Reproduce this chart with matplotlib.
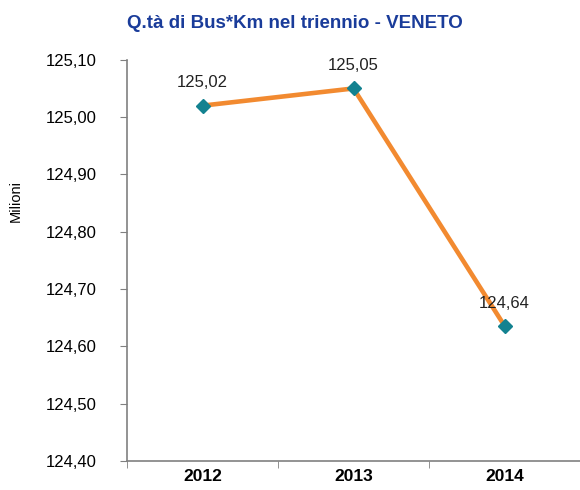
import matplotlib
matplotlib.use("Agg")
import matplotlib.pyplot as plt
from matplotlib.ticker import FuncFormatter

# dati
anni = ["2012", "2013", "2014"]
bus_km = [125.02, 125.05, 124.636]
etichette = ["125,02", "125,05", "124,64"]
y_ticks = [124.40, 124.50, 124.60, 124.70, 124.80, 124.90, 125.00, 125.10]

plt.rcParams["font.family"] = ["Liberation Sans", "DejaVu Sans"]

fig = plt.figure(figsize=(5.8, 4.9), dpi=100)
ax = fig.add_axes([0.219, 0.059, 0.781, 0.819])

x = list(range(len(anni)))
ax.plot(x, bus_km, color="#F28A30", lw=3.3, marker="D", ms=7,
        mfc="#138290", mec="#138290", zorder=3)
for xi, yi, lab in zip(x, bus_km, etichette):
    ax.annotate(lab, (xi, yi), xytext=(0, 11), textcoords="offset points",
                ha="center", va="bottom", fontsize=12, color="#222222")

ax.set_xlim(-0.5, 2.5)
ax.set_ylim(124.40, 125.10)
ax.set_yticks(y_ticks)
ax.yaxis.set_major_formatter(FuncFormatter(lambda v, p: f"{v:.2f}".replace(".", ",")))
ax.set_xticks(x)
ax.set_xticklabels(anni, fontweight="bold", fontsize=12.5)
ax.set_xticks([-0.5, 0.5, 1.5, 2.5], minor=True)
ax.tick_params(axis="x", which="major", length=0, pad=6)
ax.tick_params(axis="x", which="minor", length=5, color="#808080")
ax.tick_params(axis="y", length=5, color="#808080", pad=17, labelsize=12)

for s in ["top", "right"]:
    ax.spines[s].set_visible(False)
for s in ["left", "bottom"]:
    ax.spines[s].set_color("#808080")
    ax.spines[s].set_linewidth(1.2)

fig.text(0.027, 0.59, "Milioni", rotation=90, ha="center", va="center", fontsize=10.5)
fig.text(0.508, 0.953, "Q.tà di Bus*Km nel triennio - VENETO", ha="center",
         va="center", fontsize=13.5, fontweight="bold", color="#1A3C9A")

fig.savefig("out.png", dpi=100)
